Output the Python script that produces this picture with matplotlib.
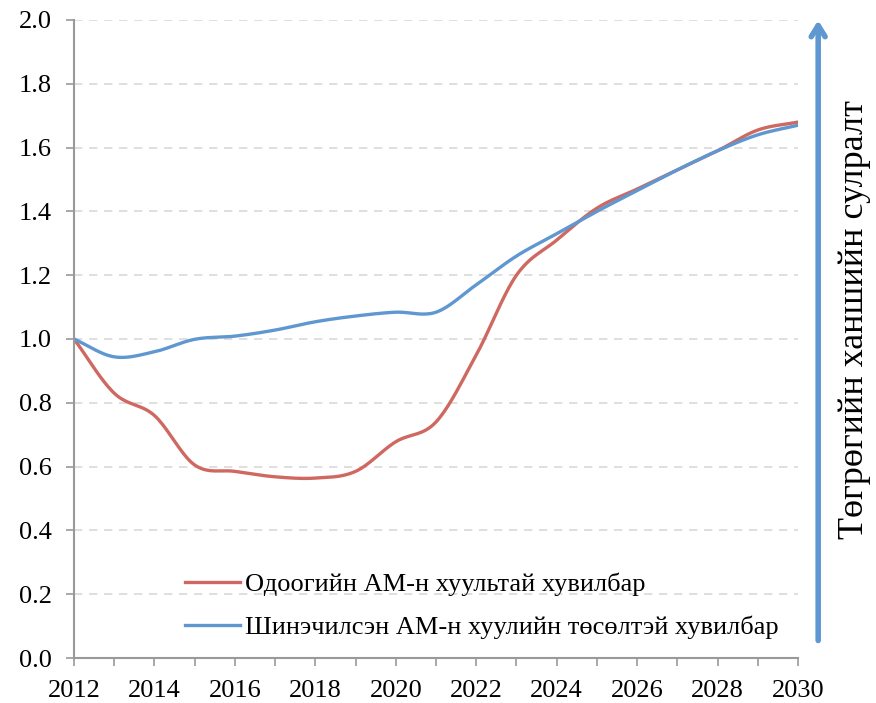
import numpy as np
import matplotlib.pyplot as plt

# Дані
years = np.arange(2012, 2031)
current_law = [1.00, 0.83, 0.76, 0.605, 0.585, 0.568, 0.564, 0.585, 0.678, 0.74,
               0.95, 1.20, 1.31, 1.41, 1.47, 1.53, 1.59, 1.655, 1.68]
new_law = [1.00, 0.944, 0.96, 0.999, 1.009, 1.028, 1.054, 1.072, 1.084, 1.084,
           1.17, 1.26, 1.33, 1.40, 1.465, 1.53, 1.59, 1.64, 1.67]
labels = ['Одоогийн АМ-н хуультай хувилбар',
          'Шинэчилсэн АМ-н хуулийн төсөлтэй хувилбар']
arrow_text = 'Төгрөгийн ханшийн сулралт'


def smooth(x, y, n=20):
    # Catmull-Rom як у згладжених лініях Excel
    x = np.asarray(x, float)
    y = np.asarray(y, float)
    px = np.concatenate([[2 * x[0] - x[1]], x, [2 * x[-1] - x[-2]]])
    py = np.concatenate([[2 * y[0] - y[1]], y, [2 * y[-1] - y[-2]]])
    xs, ys = [], []
    t = np.linspace(0, 1, n, endpoint=False)
    for i in range(1, len(px) - 2):
        for p, out in ((px, xs), (py, ys)):
            p0, p1, p2, p3 = p[i - 1], p[i], p[i + 1], p[i + 2]
            out.extend(0.5 * (2 * p1 + (-p0 + p2) * t
                              + (2 * p0 - 5 * p1 + 4 * p2 - p3) * t ** 2
                              + (-p0 + 3 * p1 - 3 * p2 + p3) * t ** 3))
    xs.append(x[-1])
    ys.append(y[-1])
    return np.array(xs), np.array(ys)


plt.rcParams['font.family'] = 'serif'
plt.rcParams['font.serif'] = ['Liberation Serif', 'DejaVu Serif']

fig = plt.figure(figsize=(8.76, 7.03), dpi=100)
ax = fig.add_axes([0.0845, 0.064, 0.8265, 0.9076])

red = '#CF6860'
blue = '#5F97D0'
ax.plot(*smooth(years, current_law), color=red, lw=2.4, label=labels[0])
ax.plot(*smooth(years, new_law), color=blue, lw=2.4, label=labels[1])

ax.set_xlim(2012, 2030)
ax.set_ylim(0, 2.0)
ax.set_xticks(np.arange(2012, 2031, 2))
ax.set_xticks(years, minor=True)
ax.set_yticks(np.arange(0, 2.01, 0.2))
ax.set_yticklabels([f'{v:.1f}' for v in np.arange(0, 2.01, 0.2)])
ax.tick_params(axis='both', labelsize=19, color='#999999', width=1.2, length=6)
ax.tick_params(axis='x', which='minor', color='#999999', width=1.2, length=6)
ax.tick_params(axis='x', pad=10)
ax.tick_params(axis='y', pad=10)
ax.grid(axis='y', color='#D9D9D9', linestyle=(0, (5, 4)), lw=1.2)
ax.set_axisbelow(True)
for s in ['top', 'right']:
    ax.spines[s].set_visible(False)
for s in ['left', 'bottom']:
    ax.spines[s].set_color('#999999')
    ax.spines[s].set_linewidth(1.5)

ax.legend(loc='lower left', bbox_to_anchor=(0.12, -0.008), frameon=False,
          fontsize=19, handlelength=2.1, handletextpad=0.2, labelspacing=0.75)

# Стрілка праворуч
ax.annotate('', xy=(0.934, 0.975), xytext=(0.934, 0.085),
            xycoords='figure fraction', textcoords='figure fraction',
            arrowprops=dict(arrowstyle='->,head_length=0.8,head_width=0.5',
                            color=blue, lw=4))
fig.text(0.976, 0.545, arrow_text, rotation=90, fontsize=26,
         ha='center', va='center')

fig.savefig('out.png', dpi=100)
